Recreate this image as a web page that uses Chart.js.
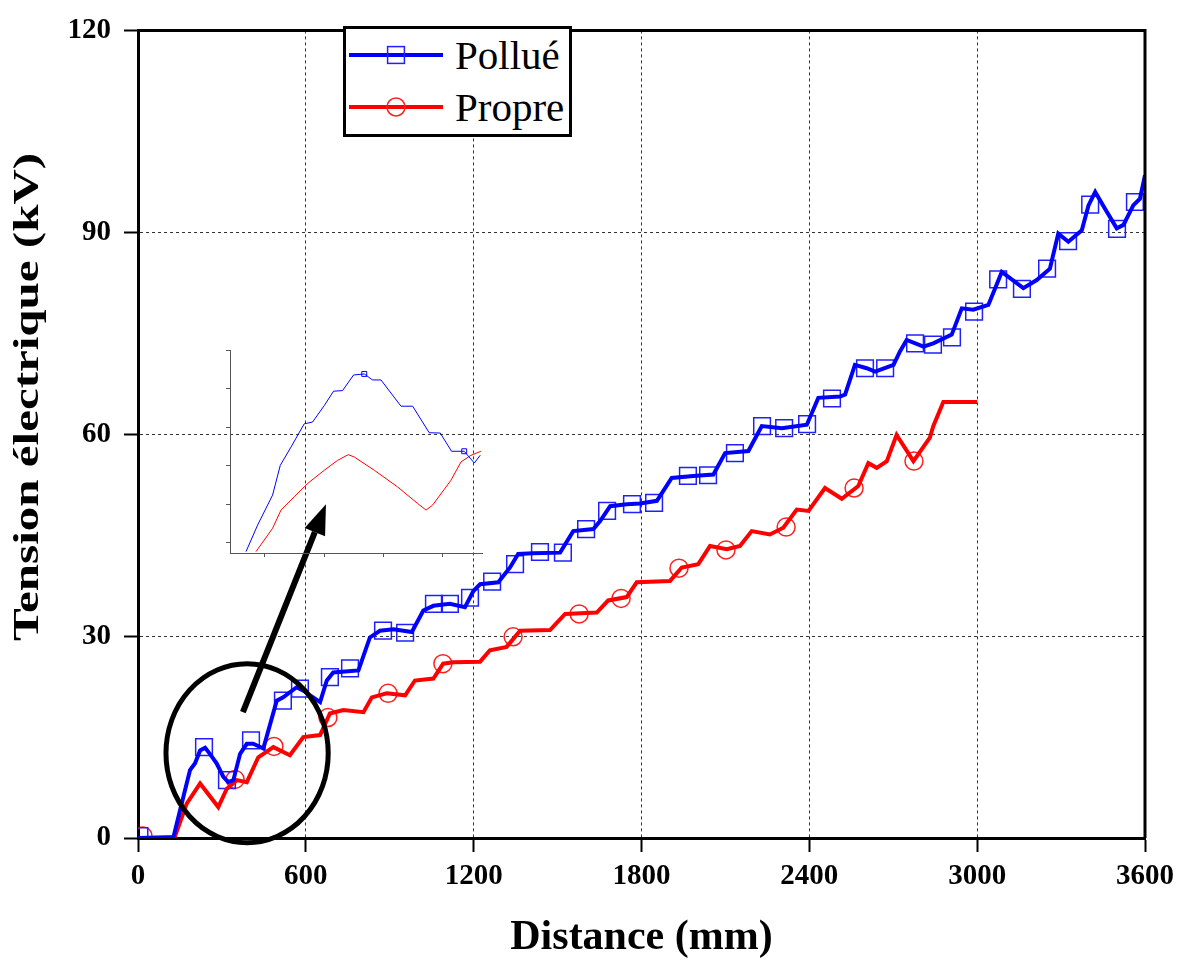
<!DOCTYPE html>
<html>
<head>
<meta charset="utf-8">
<script src="https://cdn.jsdelivr.net/npm/chart.js@4.4.0/dist/chart.umd.min.js"></script>
<style>
  html, body { margin: 0; padding: 0; background: #fff; }
  #wrap { position: relative; width: 1182px; height: 963px; }
  #main-box { position: absolute; left: 0; top: 0; width: 1182px; height: 963px; }
  #inset-box { position: absolute; left: 215px; top: 340px; width: 280px; height: 225px; }
  #legend {
    position: absolute; left: 343px; top: 26px; width: 229px; height: 111px;
    box-sizing: border-box; border: 3px solid #000; background: #fff;
    font-family: "Liberation Serif", "Times New Roman", serif; font-size: 41px; color: #000;
  }
  #legend svg { position: absolute; left: 0; }
  #legend span { position: absolute; left: 109px; line-height: 45px; white-space: nowrap; }
</style>
</head>
<body>
<div id="wrap">
  <div id="main-box"><canvas id="main"></canvas></div>
  <div id="inset-box"><canvas id="inset"></canvas></div>
  <div id="legend">
    <svg style="top:14px" width="100" height="24">
      <line x1="3" y1="12" x2="97" y2="12" stroke="#0000ff" stroke-width="4"/>
      <rect x="41.6" y="3.6" width="16.8" height="16.8" fill="none" stroke="#2020ff" stroke-width="1.5"/>
    </svg>
    <span style="top:4px">Pollué</span>
    <svg style="top:66px" width="100" height="24">
      <line x1="3" y1="12" x2="97" y2="12" stroke="#ff0000" stroke-width="4"/>
      <circle cx="50" cy="12" r="9" fill="none" stroke="#ff2020" stroke-width="1.5"/>
    </svg>
    <span style="top:56px">Propre</span>
  </div>
</div>
<script>
// main curves (distance in mm, voltage in kV)
const distPollue = [0, 126, 162, 186, 204, 222, 240, 257, 281, 305, 323, 341, 365, 389, 412, 448, 496, 519, 567, 591,
  651, 675, 698, 788, 829, 865, 913, 979, 1020, 1056, 1115, 1169, 1199, 1223, 1288, 1330, 1359, 1412, 1509, 1556,
  1628, 1652, 1688, 1747, 1795, 1855, 1908, 1985, 2057, 2099, 2182, 2230, 2302, 2391, 2432, 2510, 2528, 2563, 2605, 2635,
  2701, 2724, 2748, 2808, 2843, 2909, 2945, 2986, 3040, 3088, 3165, 3213, 3260, 3290, 3326, 3374, 3398, 3422, 3457, 3499,
  3523, 3558, 3582, 3600];
const voltPollue = [0, 0, 6.1, 10.1, 11.1, 13.0, 13.4, 12.5, 11.1, 9.1, 8.3, 8.6, 12.5, 14.0, 14.0, 13.3, 20.4, 20.9, 22.4, 21.9,
  20.2, 23.4, 24.6, 24.9, 29.8, 30.8, 31.0, 30.6, 33.8, 34.5, 34.8, 34.3, 36.7, 37.7, 38.0, 40.2, 42.2, 42.3, 42.4, 45.6,
  45.9, 47.1, 49.3, 49.6, 49.7, 50.1, 53.5, 53.8, 54.0, 57.2, 57.5, 61.2, 60.9, 61.4, 65.4, 65.6, 65.9, 70.3, 69.8, 69.3,
  70.3, 72.3, 74.0, 73.0, 73.5, 74.8, 78.7, 78.5, 79.2, 84.1, 81.7, 82.9, 84.6, 89.8, 88.6, 90.3, 94.0, 96.0, 93.5, 90.6,
  91.1, 94.0, 95.0, 98.5];

const distPropre = [0, 132, 174, 222, 287, 317, 353, 389, 430, 484, 543, 591, 651, 686, 734, 806, 836, 889, 955, 990,
  1056, 1091, 1127, 1223, 1258, 1318, 1366, 1473, 1527, 1640, 1681, 1747, 1783, 1902, 1944, 2003, 2045, 2105, 2152, 2194,
  2259, 2307, 2355, 2397, 2456, 2516, 2575, 2611, 2641, 2677, 2712, 2772, 2831, 2843, 2879, 3000];
const voltPropre = [0, 0.2, 5.1, 8.1, 4.6, 7.3, 8.6, 8.3, 12.0, 13.5, 12.3, 15.0, 15.3, 18.5, 19.0, 18.7, 20.9, 21.5, 21.2, 23.4,
  23.7, 25.9, 26.1, 26.2, 27.9, 28.4, 30.8, 30.9, 33.3, 33.5, 35.3, 35.8, 38.0, 38.2, 40.2, 40.7, 43.4, 42.9, 43.4, 45.6,
  45.1, 46.1, 48.8, 48.6, 52.0, 50.4, 52.3, 55.7, 55.0, 56.0, 59.9, 56.0, 59.5, 61.2, 64.8, 64.8];

// symbols along the curves
const markDistPollue = [5, 236, 318, 404, 518, 579, 686, 758, 876, 955, 1058, 1115, 1187, 1266, 1348, 1437, 1519, 1602, 1677, 1766,
  1845, 1966, 2038, 2134, 2231, 2310, 2392, 2481, 2599, 2671, 2778, 2842, 2910, 2989, 3075, 3160, 3250, 3325, 3404, 3500, 3564];
const markVoltPollue = [0.3, 13.5, 8.6, 14.5, 20.4, 22.2, 23.9, 25.2, 30.8, 30.5, 34.8, 34.8, 35.7, 38.1, 40.7, 42.5, 42.4, 45.9, 48.6, 49.6,
  49.8, 53.8, 53.9, 57.2, 61.2, 60.9, 61.5, 65.3, 69.8, 69.8, 73.5, 73.3, 74.4, 78.2, 83.0, 81.6, 84.6, 88.7, 94.1, 90.5, 94.5];
const markDistPropre = [18, 347, 486, 679, 894, 1090, 1341, 1577, 1727, 1934, 2102, 2317, 2560, 2774];
const markVoltPropre = [0.3, 8.7, 13.6, 17.9, 21.5, 25.9, 29.9, 33.3, 35.6, 40.1, 42.8, 46.2, 52.0, 56.0];

const xTicksMain = [0, 600, 1200, 1800, 2400, 3000, 3600];
const yTicksMain = [0, 30, 60, 90, 120];
const yTitle = 'Tension électrique (kV)';

// zoomed inset of the circled region
const insetDistPollue = [134.0, 143.8, 156.4, 162.9, 171.9, 183.1, 190.1, 200.0, 207.8, 215.4, 224.7, 233.7, 240.7, 247.8,
  264.7, 274.5, 288.5, 297.8, 307.3, 318.0, 326.5, 331.5];
const insetVoltPollue = [1.94, 3.66, 5.60, 7.53, 8.71, 10.22, 10.33, 11.40, 12.33, 12.37, 13.38, 13.45, 13.06, 13.06,
  11.36, 11.36, 9.64, 9.62, 8.44, 8.44, 7.68, 8.18];
const insetDistPropre = [142.4, 156.4, 163.5, 174.7, 185.9, 200.0, 211.2, 220.2, 225.3, 242.2, 261.8, 278.7, 285.8, 291.3,
  306.8, 315.3, 323.7, 332.1];
const insetVoltPropre = [1.94, 3.45, 4.63, 5.49, 6.35, 7.21, 7.85, 8.22, 8.07, 7.21, 6.13, 5.06, 4.63, 4.95,
  6.56, 7.75, 8.18, 8.44];
const insetMarkIdx = [11, 19];
const insetTicksX = [150, 200, 250, 300];
const insetTicksY = [2.5, 5, 7.5, 10, 12.5, 15];

// annotation: ellipse around the start and arrow to the inset (data units)
const circleCenter = [390, 12.6];
const circleRadius = [290, 13.3];
const arrowFrom = [375, 18.7];
const arrowTo = [672, 49.6];

function toPoints(xs, ys) {
  return xs.map((x, i) => ({ x: x, y: ys[i] }));
}

const serif = '"Liberation Serif", "Times New Roman", serif';
const tickFont = { family: serif, size: 29, weight: 'bold' };

const framePlugin = {
  id: 'frame',
  afterDraw(chart) {
    const { ctx, chartArea: a } = chart;
    ctx.save();
    ctx.strokeStyle = '#000';
    ctx.lineWidth = 3;
    ctx.beginPath();
    ctx.moveTo(a.left, a.top);
    ctx.lineTo(a.right, a.top);
    ctx.lineTo(a.right, a.bottom);
    ctx.stroke();

    // y title, narrow like the original figure
    ctx.translate(29, 397);
    ctx.rotate(-Math.PI / 2);
    ctx.scale(1, 0.74);
    ctx.font = 'bold 49px ' + serif;
    ctx.fillStyle = '#000';
    ctx.textAlign = 'center';
    ctx.textBaseline = 'middle';
    ctx.fillText(yTitle, 0, 0);
    ctx.restore();
  }
};

const annotationPlugin = {
  id: 'annotation',
  afterDatasetsDraw(chart) {
    const { ctx, scales: { x, y } } = chart;
    const cx = x.getPixelForValue(circleCenter[0]);
    const cy = y.getPixelForValue(circleCenter[1]);
    const rx = x.getPixelForValue(circleCenter[0] + circleRadius[0]) - cx;
    const ry = cy - y.getPixelForValue(circleCenter[1] + circleRadius[1]);
    ctx.save();
    ctx.strokeStyle = '#000';
    ctx.lineWidth = 5;
    ctx.beginPath();
    ctx.ellipse(cx, cy, rx, ry, 0, 0, Math.PI * 2);
    ctx.stroke();

    const x1 = x.getPixelForValue(arrowFrom[0]), y1 = y.getPixelForValue(arrowFrom[1]);
    const x2 = x.getPixelForValue(arrowTo[0]), y2 = y.getPixelForValue(arrowTo[1]);
    const ang = Math.atan2(y2 - y1, x2 - x1);
    const headLen = 30, headHalf = 11;
    const bx = x2 - headLen * Math.cos(ang), by = y2 - headLen * Math.sin(ang);
    ctx.lineWidth = 6;
    ctx.beginPath();
    ctx.moveTo(x1, y1);
    ctx.lineTo(bx, by);
    ctx.stroke();
    ctx.fillStyle = '#000';
    ctx.beginPath();
    ctx.moveTo(x2, y2);
    ctx.lineTo(bx + headHalf * Math.sin(ang), by - headHalf * Math.cos(ang));
    ctx.lineTo(bx - headHalf * Math.sin(ang), by + headHalf * Math.cos(ang));
    ctx.closePath();
    ctx.fill();
    ctx.restore();
  }
};

new Chart(document.getElementById('main'), {
  type: 'line',
  data: {
    datasets: [
      { label: 'Pollué', data: toPoints(distPollue, voltPollue), borderColor: '#0000ff', borderWidth: 4,
        pointRadius: 0, tension: 0 },
      { label: 'Propre', data: toPoints(distPropre, voltPropre), borderColor: '#ff0000', borderWidth: 4,
        pointRadius: 0, tension: 0 },
      { label: 'Pollué symbols', data: toPoints(markDistPollue, markVoltPollue), showLine: false,
        pointStyle: 'rect', pointRadius: 11.8, pointBorderWidth: 1.5,
        pointBorderColor: '#2020ff', pointBackgroundColor: 'rgba(0,0,0,0)' },
      { label: 'Propre symbols', data: toPoints(markDistPropre, markVoltPropre), showLine: false,
        pointStyle: 'circle', pointRadius: 9, pointBorderWidth: 1.5,
        pointBorderColor: '#ff2020', pointBackgroundColor: 'rgba(0,0,0,0)' }
    ]
  },
  options: {
    responsive: true,
    maintainAspectRatio: false,
    animation: false,
    layout: { padding: { top: 28, right: 37, left: 0, bottom: 0 } },
    plugins: { legend: { display: false }, tooltip: { enabled: false } },
    scales: {
      x: {
        type: 'linear', min: 0, max: 3600,
        afterBuildTicks: s => { s.ticks = xTicksMain.map(v => ({ value: v })); },
        ticks: { color: '#000', font: tickFont, padding: 7, maxRotation: 0, callback: v => String(v) },
        grid: { color: '#333', lineWidth: 1, tickColor: '#000', tickWidth: 2, tickLength: 14, tickBorderDash: [] },
        border: { color: '#000', width: 3, dash: [3, 3] },
        title: { display: true, text: 'Distance (mm)', color: '#000', padding: 0,
          font: { family: serif, size: 42, weight: 'bold' } },
        afterFit: s => { s.height = 125; }
      },
      y: {
        type: 'linear', min: 0, max: 120,
        afterBuildTicks: s => { s.ticks = yTicksMain.map(v => ({ value: v })); },
        ticks: { color: '#000', font: tickFont, padding: 13, callback: v => String(v) },
        grid: { color: '#333', lineWidth: 1, tickColor: '#000', tickWidth: 2, tickLength: 14, tickBorderDash: [] },
        border: { color: '#000', width: 3, dash: [3, 3] },
        title: { display: false },
        afterFit: s => { s.width = 138; }
      }
    }
  },
  plugins: [framePlugin, annotationPlugin]
});

new Chart(document.getElementById('inset'), {
  type: 'line',
  data: {
    datasets: [
      { data: toPoints(insetDistPollue, insetVoltPollue), borderColor: '#0000ff', borderWidth: 1, tension: 0,
        pointStyle: 'rect', pointBorderColor: '#0000ff', pointBorderWidth: 1, pointBackgroundColor: 'rgba(0,0,0,0)',
        pointRadius: insetDistPollue.map((d, i) => insetMarkIdx.includes(i) ? 3.5 : 0) },
      { data: toPoints(insetDistPropre, insetVoltPropre), borderColor: '#ff0000', borderWidth: 1, tension: 0,
        pointRadius: 0 }
    ]
  },
  options: {
    responsive: true,
    maintainAspectRatio: false,
    animation: false,
    layout: { padding: { top: 10, right: 13, left: 0, bottom: 0 } },
    plugins: { legend: { display: false }, tooltip: { enabled: false } },
    scales: {
      x: {
        type: 'linear', min: 120.5, max: 333,
        afterBuildTicks: s => { s.ticks = insetTicksX.map(v => ({ value: v })); },
        ticks: { display: false },
        grid: { drawOnChartArea: false, tickLength: 4, tickColor: '#555', tickWidth: 1 },
        border: { color: '#555', width: 1 },
        afterFit: s => { s.height = 12; }
      },
      y: {
        type: 'linear', min: 1.85, max: 15,
        afterBuildTicks: s => { s.ticks = insetTicksY.map(v => ({ value: v })); },
        ticks: { display: false },
        grid: { drawOnChartArea: false, tickLength: 4, tickColor: '#555', tickWidth: 1 },
        border: { color: '#555', width: 1 },
        afterFit: s => { s.width = 15; }
      }
    }
  }
});
</script>
</body>
</html>
